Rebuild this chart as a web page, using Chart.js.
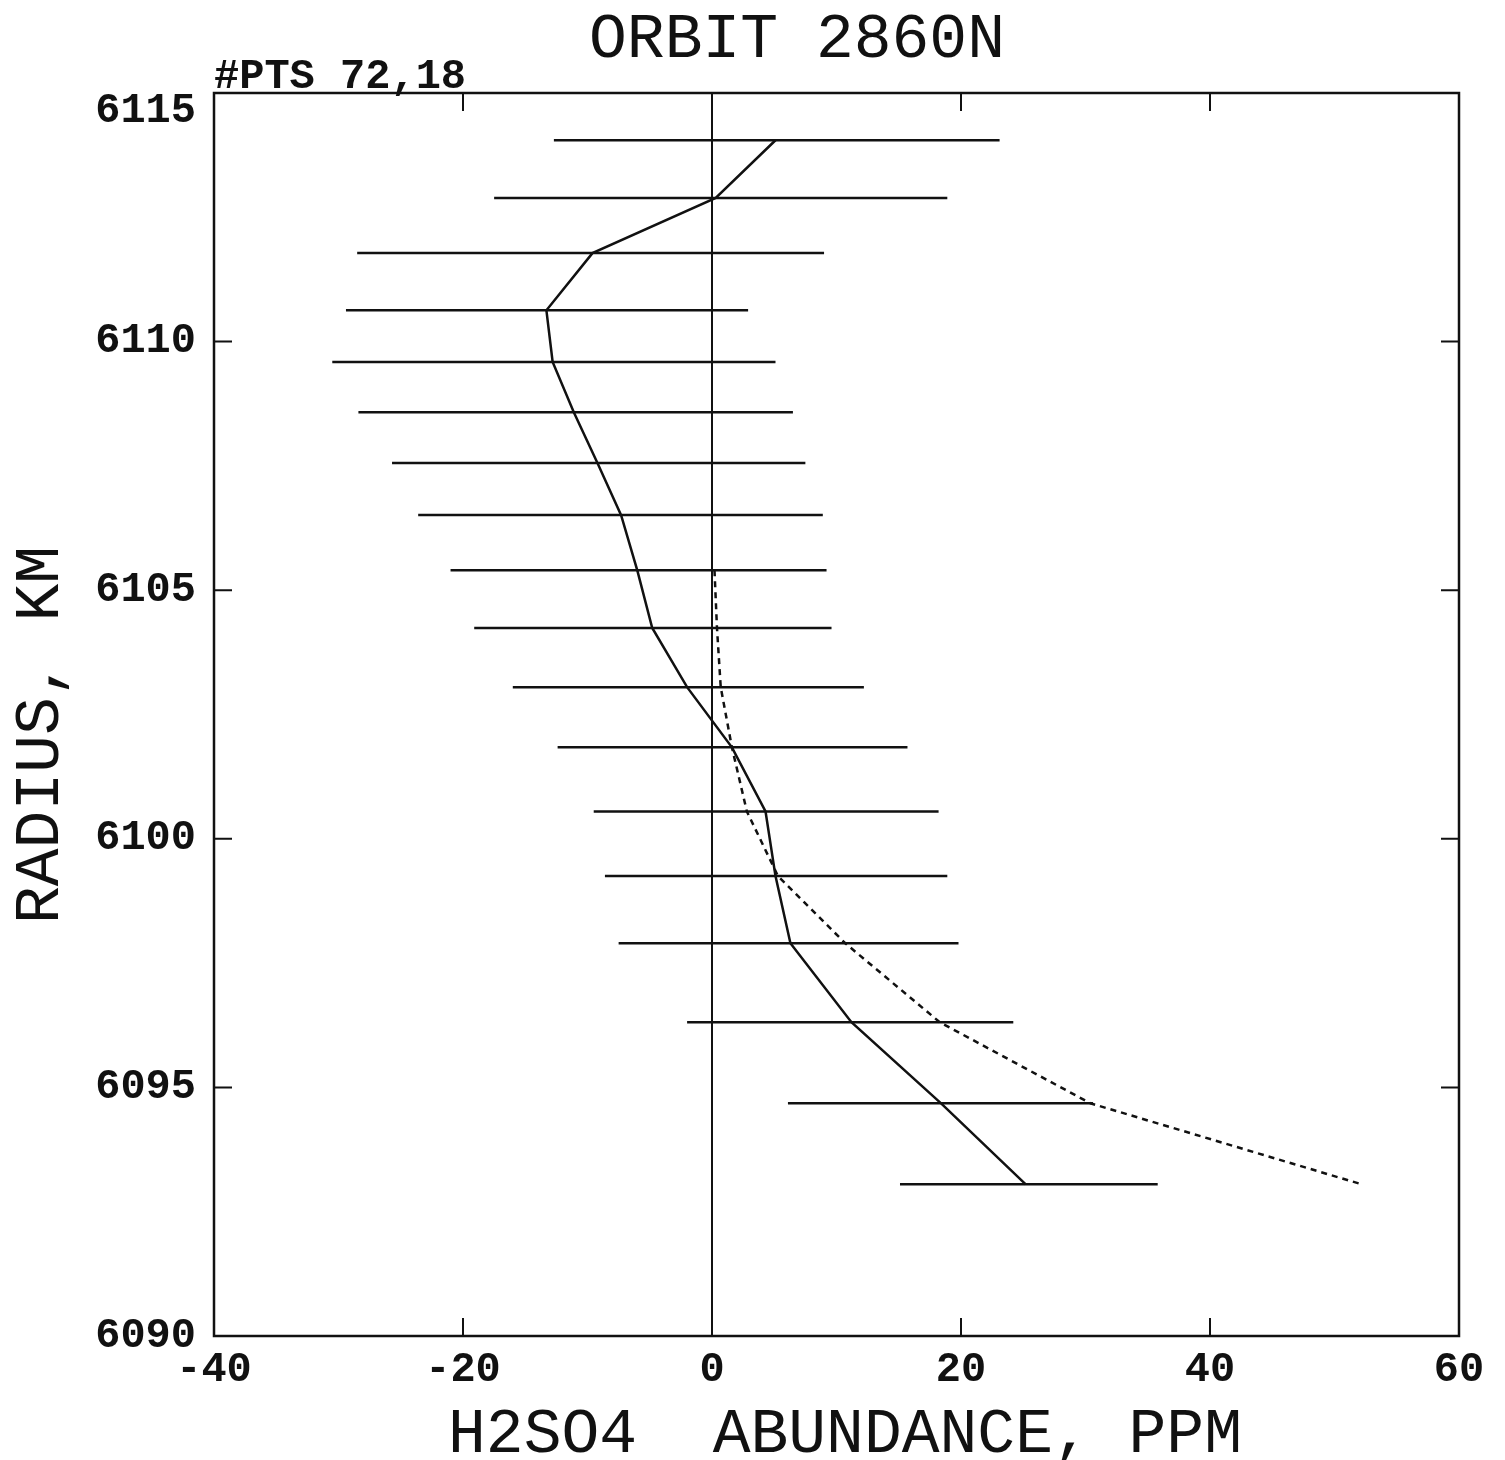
<!DOCTYPE html>
<html>
<head>
<meta charset="utf-8">
<script src="https://cdn.jsdelivr.net/npm/chart.js@4.4.1/dist/chart.umd.min.js"></script>
<style>
  html, body { margin: 0; padding: 0; background: #fff; }
  #wrap { width: 1505px; height: 1460px; position: relative; }
</style>
</head>
<body>
<div id="wrap"><canvas id="c" width="1505" height="1460"></canvas></div>
<script>
// ---- data ----
const radius    = [6114.05, 6112.89, 6111.78, 6110.63, 6109.59, 6108.58, 6107.56, 6106.51, 6105.40, 6104.24, 6103.05, 6101.84, 6100.55, 6099.25, 6097.90, 6096.31, 6094.68, 6093.05];
const abundance = [5.1, 0.3, -9.6, -13.3, -12.8, -11.1, -9.2, -7.3, -6.0, -4.8, -2.0, 1.6, 4.3, 5.1, 6.3, 11.2, 18.4, 25.2];
const errLow    = [-12.7, -17.5, -28.5, -29.4, -30.5, -28.4, -25.7, -23.6, -21.0, -19.1, -16.0, -12.4, -9.5, -8.6, -7.5, -2.0, 6.1, 15.1];
const errHigh   = [23.1, 18.9, 9.0, 2.9, 5.1, 6.5, 7.5, 8.9, 9.2, 9.6, 12.2, 15.7, 18.2, 18.9, 19.8, 24.2, 30.6, 35.8];
const modelRadius    = [6105.40, 6104.24, 6103.05, 6101.84, 6100.55, 6099.25, 6097.90, 6096.31, 6094.68, 6093.05];
const modelAbundance = [0.2, 0.4, 0.7, 1.6, 2.8, 5.3, 10.7, 18.3, 30.4, 52.2];
const xTicks = [-40, -20, 0, 20, 40, 60];
const yTicks = [6090, 6095, 6100, 6105, 6110, 6115];
const titleText = 'ORBIT 2860N';
const ptsText = '#PTS 72,18';
const xTitle = 'H2SO4  ABUNDANCE, PPM';
const yTitle = 'RADIUS, KM';

const INK = '#111';
const stroke = '"Liberation Mono", "DejaVu Sans Mono", monospace';

const decor = {
  id: 'decor',
  afterDatasetsDraw(chart) {
    const ctx = chart.ctx;
    const xs = chart.scales.x, ys = chart.scales.y;
    const a = chart.chartArea;
    ctx.save();
    ctx.strokeStyle = INK;
    ctx.lineCap = 'butt';
    // error bars
    ctx.lineWidth = 2.5;
    for (let i = 0; i < radius.length; i++) {
      const py = ys.getPixelForValue(radius[i]);
      ctx.beginPath();
      ctx.moveTo(xs.getPixelForValue(errLow[i]), py);
      ctx.lineTo(xs.getPixelForValue(errHigh[i]), py);
      ctx.stroke();
    }
    // frame
    ctx.lineWidth = 2.5;
    ctx.strokeRect(a.left, a.top, a.right - a.left, a.bottom - a.top);
    // inward ticks
    const tl = 18;
    ctx.lineWidth = 2;
    xTicks.forEach(v => {
      if (v === xTicks[0] || v === xTicks[xTicks.length - 1]) return;
      const px = xs.getPixelForValue(v);
      ctx.beginPath();
      ctx.moveTo(px, a.bottom); ctx.lineTo(px, a.bottom - tl);
      ctx.moveTo(px, a.top); ctx.lineTo(px, a.top + tl);
      ctx.stroke();
    });
    yTicks.forEach(v => {
      if (v === yTicks[0] || v === yTicks[yTicks.length - 1]) return;
      const py = ys.getPixelForValue(v);
      ctx.beginPath();
      ctx.moveTo(a.left, py); ctx.lineTo(a.left + tl, py);
      ctx.moveTo(a.right, py); ctx.lineTo(a.right - tl, py);
      ctx.stroke();
    });
    // texts
    ctx.fillStyle = INK;
    ctx.textAlign = 'center';
    ctx.textBaseline = 'alphabetic';
    ctx.font = '63px ' + stroke;
    ctx.fillText(titleText, 797, 57);
    ctx.fillText(xTitle, 845, 1452);
    ctx.save();
    ctx.translate(58, 735);
    ctx.rotate(-Math.PI / 2);
    ctx.fillText(yTitle, 0, 0);
    ctx.restore();
    ctx.textAlign = 'left';
    ctx.font = 'bold 42px ' + stroke;
    ctx.fillText(ptsText, 214, 88);
    ctx.restore();
  }
};

new Chart(document.getElementById('c'), {
  type: 'line',
  data: {
    datasets: [
      {
        label: 'retrieved',
        data: radius.map((r, i) => ({ x: abundance[i], y: r })),
        borderColor: INK,
        borderWidth: 2.5,
        pointRadius: 0,
        tension: 0,
        fill: false
      },
      {
        label: 'model',
        data: modelRadius.map((r, i) => ({ x: modelAbundance[i], y: r })),
        borderColor: INK,
        borderWidth: 2.5,
        borderDash: [6, 5],
        pointRadius: 0,
        tension: 0,
        fill: false
      }
    ]
  },
  options: {
    responsive: false,
    animation: false,
    devicePixelRatio: 1,
    layout: { padding: { top: 93, right: 46, left: 0, bottom: 0 } },
    plugins: { legend: { display: false }, title: { display: false }, tooltip: { enabled: false } },
    scales: {
      x: {
        type: 'linear',
        min: -40, max: 60,
        afterBuildTicks: s => { s.ticks = xTicks.map(v => ({ value: v })); },
        afterFit: s => { s.height = 124; },
        grid: {
          drawTicks: false,
          color: c => (c.tick && c.tick.value === 0) ? INK : 'rgba(0,0,0,0)',
          lineWidth: 2
        },
        border: { display: false },
        ticks: {
          color: INK,
          padding: 9,
          maxRotation: 0,
          font: { family: stroke, size: 42, weight: 'bold' }
        }
      },
      y: {
        type: 'linear',
        min: 6090, max: 6115,
        afterBuildTicks: s => { s.ticks = yTicks.map(v => ({ value: v })); },
        afterFit: s => { s.width = 214; },
        grid: { display: false, drawTicks: false },
        border: { display: false },
        ticks: {
          color: INK,
          padding: 18,
          callback: v => (v === yTicks[yTicks.length - 1]) ? ['', String(v)] : String(v),
          font: { family: stroke, size: 42, weight: 'bold', lineHeight: 0.9 }
        }
      }
    }
  },
  plugins: [decor]
});
</script>
</body>
</html>
